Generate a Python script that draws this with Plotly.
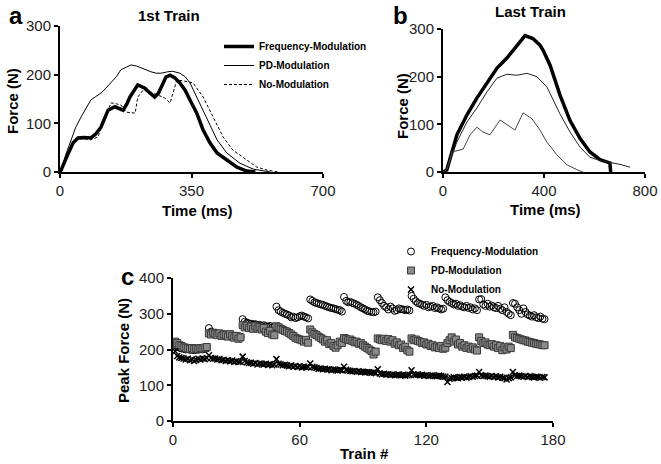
import plotly.graph_objects as go

# ---------------- Panel a: 1st train ----------------
a_time_freq = [0, 3, 20, 35, 48, 65, 82, 95, 109, 128, 146, 158, 168, 178, 186, 207, 226, 240, 252, 262, 269, 282,
               293, 305, 319, 333, 346, 364, 381, 399, 418, 444, 471, 497, 520]
a_force_freq = [0, 4, 35, 60, 70, 71, 70, 78, 92, 127, 134, 131, 127, 140, 154, 179, 172, 162, 154, 162, 175, 195,
                199, 194, 183, 168, 148, 121, 86, 60, 39, 25, 10, 2, 0]

a_time_pd = [0, 3, 15, 29, 42, 56, 70, 82, 95, 109, 122, 136, 150, 162, 175, 189, 203, 216, 229, 242, 256, 269,
             287, 300, 319, 333, 346, 364, 391, 418, 444, 479, 514, 540, 560]
a_force_pd = [0, 0, 35, 66, 92, 113, 133, 148, 155, 162, 172, 183, 196, 210, 215, 220, 218, 214, 209, 206, 203, 203,
              206, 207, 203, 196, 183, 154, 107, 66, 39, 18, 6, 2, 0]

a_time_no = [0, 3, 20, 35, 48, 65, 82, 101, 120, 136, 150, 162, 176, 190, 200, 207, 221, 242, 261, 279, 293, 300,
             311, 330, 354, 381, 408, 434, 460, 497, 524, 551, 580]
a_force_no = [0, 4, 35, 60, 68, 68, 66, 72, 113, 142, 140, 138, 123, 121, 121, 154, 168, 164, 158, 152, 142, 160,
              189, 187, 183, 154, 113, 72, 45, 25, 10, 4, 0]

# ---------------- Panel b: last train ----------------
b_time_freq = [0, 15, 55, 95, 134, 174, 214, 253, 293, 325, 356, 384, 396, 424, 463, 503, 543, 582, 622, 661, 664]
b_force_freq = [0, 4, 78, 120, 155, 187, 218, 239, 266, 286, 280, 266, 256, 224, 162, 108, 70, 42, 26, 19, 0]

b_time_pd = [0, 15, 55, 95, 134, 174, 214, 253, 293, 333, 372, 412, 424, 463, 503, 543, 582, 622, 661, 701, 741]
b_force_pd = [0, 5, 63, 105, 134, 168, 197, 205, 203, 207, 200, 178, 165, 122, 84, 52, 31, 24, 20, 16, 10]

b_time_no = [0, 15, 36, 55, 80, 107, 134, 158, 186, 226, 253, 285, 317, 352, 384, 411, 451, 491, 530, 554]
b_force_no = [0, 5, 42, 45, 48, 78, 94, 84, 78, 109, 99, 88, 124, 112, 88, 63, 36, 15, 5, 0]

# ---------------- Panel c: peak force per train ----------------
trains = list(range(1, 177))

c_freq = [
    212, 208, 205, 203, 202, 200, 201, 199, 200, 198, 200, 199, 201, 200, 202, 203,
    260, 250, 247, 246, 244, 245, 242, 243, 240, 241, 239, 240, 237, 238, 235, 236,
    285, 278, 275, 273, 272, 270, 271, 268, 269, 266, 268, 265, 264, 266, 262, 263,
    320, 310, 306, 303, 300, 298, 295, 290, 292, 288, 290, 293, 295, 292, 290, 287,
    340, 336, 332, 330, 328, 326, 325, 322, 320, 318, 316, 315, 313, 311, 310, 306,
    347, 336, 332, 333, 330, 328, 325, 322, 318, 315, 312, 308, 307, 305, 304, 306,
    346, 338, 330, 322, 318, 312, 320, 315, 308, 310, 315, 313, 312, 310, 312, 309,
    350, 342, 335, 330, 328, 325, 322, 325, 318, 320, 322, 316, 318, 315, 312, 314,
    346, 338, 333, 330, 326, 328, 322, 324, 320, 318, 322, 316, 318, 312, 315, 310,
    340, 341, 326, 322, 328, 320, 323, 318, 316, 322, 314, 310, 318, 305, 300, 296,
    330, 328, 318, 310, 300, 315, 305, 298, 295, 292, 296, 290, 288, 292, 286, 285,
]

c_pd = [
    222, 218, 212, 210, 206, 205, 203, 202, 204, 201, 203, 202, 204, 203, 205, 207,
    245, 242, 247, 244, 240, 245, 238, 242, 240, 236, 243, 238, 233, 238, 230, 234,
    268, 262, 266, 260, 264, 258, 265, 259, 262, 256, 260, 250, 246, 252, 242, 240,
    265, 262, 258, 255, 252, 250, 246, 242, 238, 233, 230, 228, 226, 222, 227, 219,
    256, 248, 243, 240, 236, 232, 228, 222, 226, 215, 218, 210, 205, 212, 222, 218,
    232, 230, 226, 228, 224, 220, 222, 216, 218, 212, 208, 204, 200, 196, 186, 194,
    231, 228, 226, 230, 224, 229, 222, 226, 216, 220, 212, 214, 204, 208, 198, 194,
    231, 226, 228, 224, 222, 218, 220, 214, 216, 210, 212, 206, 208, 204, 210, 202,
    205, 218, 226, 234, 222, 228, 214, 218, 208, 212, 204, 208, 202, 206, 200, 197,
    234, 224, 218, 220, 214, 212, 215, 208, 212, 204, 210, 198, 206, 200, 208, 204,
    241, 234, 232, 230, 228, 226, 225, 222, 221, 219, 218, 216, 215, 214, 212, 212,
]

c_no = [
    195, 182, 178, 176, 175, 172, 174, 170, 172, 168, 171, 174, 172, 175, 173, 176,
    184, 176, 174, 175, 172, 173, 170, 171, 168, 170, 167, 169, 166, 167, 165, 166,
    180, 168, 164, 162, 163, 160, 162, 158, 161, 160, 158, 160, 157, 159, 156, 158,
    173, 160, 158, 156, 157, 155, 153, 155, 152, 154, 151, 153, 150, 152, 150, 151,
    161, 152, 150, 148, 146, 147, 145, 146, 144, 145, 142, 144, 143, 141, 143, 142,
    152, 143, 141, 140, 139, 140, 138, 139, 137, 138, 136, 137, 136, 135, 136, 134,
    145, 133, 131, 132, 130, 131, 129, 130, 128, 129, 130, 128, 129, 127, 128, 129,
    142, 130, 129, 130, 128, 129, 127, 128, 126, 127, 128, 126, 125, 127, 126, 124,
    124, 109, 118, 120, 122, 121, 120, 123, 122, 124, 121, 123, 125, 124, 126, 127,
    137, 128, 126, 127, 125, 124, 126, 123, 125, 122, 124, 121, 120, 116, 120, 122,
    137, 128, 126, 127, 125, 124, 126, 123, 125, 124, 122, 124, 123, 121, 123, 122,
]

a_ticks = [0, 350, 700]
b_ticks = [0, 400, 800]
c_xticks = [0, 60, 120, 180]
force_ticks = [0, 100, 200, 300]
peak_ticks = [0, 100, 200, 300, 400]

FONT = "Liberation Sans, Arial, sans-serif"
W, H = 661, 464

fig = go.Figure()

# Panel a
fig.add_trace(go.Scatter(x=a_time_freq, y=a_force_freq, mode="lines", name="Frequency-Modulation",
                         line=dict(color="black", width=3.5), xaxis="x", yaxis="y", legend="legend"))
fig.add_trace(go.Scatter(x=a_time_pd, y=a_force_pd, mode="lines", name="PD-Modulation",
                         line=dict(color="black", width=1), xaxis="x", yaxis="y", legend="legend"))
fig.add_trace(go.Scatter(x=a_time_no, y=a_force_no, mode="lines", name="No-Modulation",
                         line=dict(color="black", width=1, dash="3px,2px"), xaxis="x", yaxis="y", legend="legend"))

# Panel b
fig.add_trace(go.Scatter(x=b_time_freq, y=b_force_freq, mode="lines", showlegend=False,
                         line=dict(color="black", width=3.5), xaxis="x2", yaxis="y2"))
fig.add_trace(go.Scatter(x=b_time_pd, y=b_force_pd, mode="lines", showlegend=False,
                         line=dict(color="#222", width=1), xaxis="x2", yaxis="y2"))
fig.add_trace(go.Scatter(x=b_time_no, y=b_force_no, mode="lines", showlegend=False,
                         line=dict(color="#444", width=1), xaxis="x2", yaxis="y2"))

# Panel c
fig.add_trace(go.Scatter(x=trains, y=c_freq, mode="markers", name="Frequency-Modulation",
                         marker=dict(symbol="circle-open", size=7, color="black", line=dict(width=1)),
                         xaxis="x3", yaxis="y3", legend="legend2"))
fig.add_trace(go.Scatter(x=trains, y=c_pd, mode="markers", name="PD-Modulation",
                         marker=dict(symbol="square", size=7, color="#8a8a8a", line=dict(width=1, color="#3a3a3a")),
                         xaxis="x3", yaxis="y3", legend="legend2"))
fig.add_trace(go.Scatter(x=trains, y=c_no, mode="markers", name="No-Modulation",
                         marker=dict(symbol="x-thin", size=6, color="black", line=dict(width=1.5, color="black")),
                         xaxis="x3", yaxis="y3", legend="legend2"))


def px_x(p):
    return p / W


def px_y(p):
    return 1 - p / H


axis_common = dict(showline=True, linecolor="black", linewidth=2, ticks="outside", ticklen=4, tickwidth=2,
                   tickcolor="black", showgrid=False, zeroline=False, automargin=False,
                   tickfont=dict(family=FONT, size=15, color="#222"), fixedrange=True)

legend_font = dict(family=FONT, size=10, color="black", weight="bold")

fig.update_layout(
    width=W, height=H,
    margin=dict(l=0, r=0, t=0, b=0, autoexpand=False),
    paper_bgcolor="white", plot_bgcolor="white",
    font=dict(family=FONT, color="black"),
    xaxis=dict(domain=[px_x(60), px_x(323)], range=[0, 700], tickvals=a_ticks, anchor="y", **axis_common),
    yaxis=dict(domain=[px_y(172), px_y(26)], range=[0, 300], tickvals=force_ticks, anchor="x", **axis_common),
    xaxis2=dict(domain=[px_x(443), px_x(645)], range=[0, 800], tickvals=b_ticks, anchor="y2", **axis_common),
    yaxis2=dict(domain=[px_y(172), px_y(29)], range=[0, 300], tickvals=force_ticks, anchor="x2", **axis_common),
    xaxis3=dict(domain=[px_x(173), px_x(553)], range=[0, 180], tickvals=c_xticks, anchor="y3", **axis_common),
    yaxis3=dict(domain=[px_y(421), px_y(278)], range=[0, 400], tickvals=peak_ticks, anchor="x3", **axis_common),
    legend=dict(x=px_x(219), y=px_y(32), xanchor="left", yanchor="top", bgcolor="rgba(0,0,0,0)",
                font=legend_font, tracegroupgap=0),
    legend2=dict(x=px_x(391), y=px_y(237), xanchor="left", yanchor="top", bgcolor="rgba(0,0,0,0)",
                 font=legend_font, tracegroupgap=0),
    showlegend=True,
)

annots = [
    dict(text="a", x=px_x(16), y=px_y(16), size=24),
    dict(text="b", x=px_x(400), y=px_y(16), size=24),
    dict(text="c", x=px_x(127), y=px_y(276), size=24),
    dict(text="1st Train", x=px_x(169), y=px_y(15), size=15),
    dict(text="Last Train", x=px_x(530), y=px_y(12), size=15),
    dict(text="Time (ms)", x=px_x(197), y=px_y(211), size=15),
    dict(text="Time (ms)", x=px_x(545), y=px_y(209), size=15),
    dict(text="Train #", x=px_x(365), y=px_y(453), size=15),
    dict(text="Force (N)", x=px_x(13), y=px_y(101), size=15, angle=-90),
    dict(text="Force (N)", x=px_x(402), y=px_y(106), size=15, angle=-90),
    dict(text="Peak Force (N)", x=px_x(123), y=px_y(350), size=15, angle=-90),
]
for a in annots:
    fig.add_annotation(text="<b>%s</b>" % a["text"], x=a["x"], y=a["y"], xref="paper", yref="paper",
                       xanchor="center", yanchor="middle", showarrow=False, textangle=a.get("angle", 0),
                       font=dict(family=FONT, size=a["size"], color="black"))

# remove the browser's default 8px page margin so the 661x464 figure fills the window exactly
fig.write_html("out.html", config={"displayModeBar": False},
               post_script="document.body.style.margin='0';document.body.style.overflow='hidden';")
